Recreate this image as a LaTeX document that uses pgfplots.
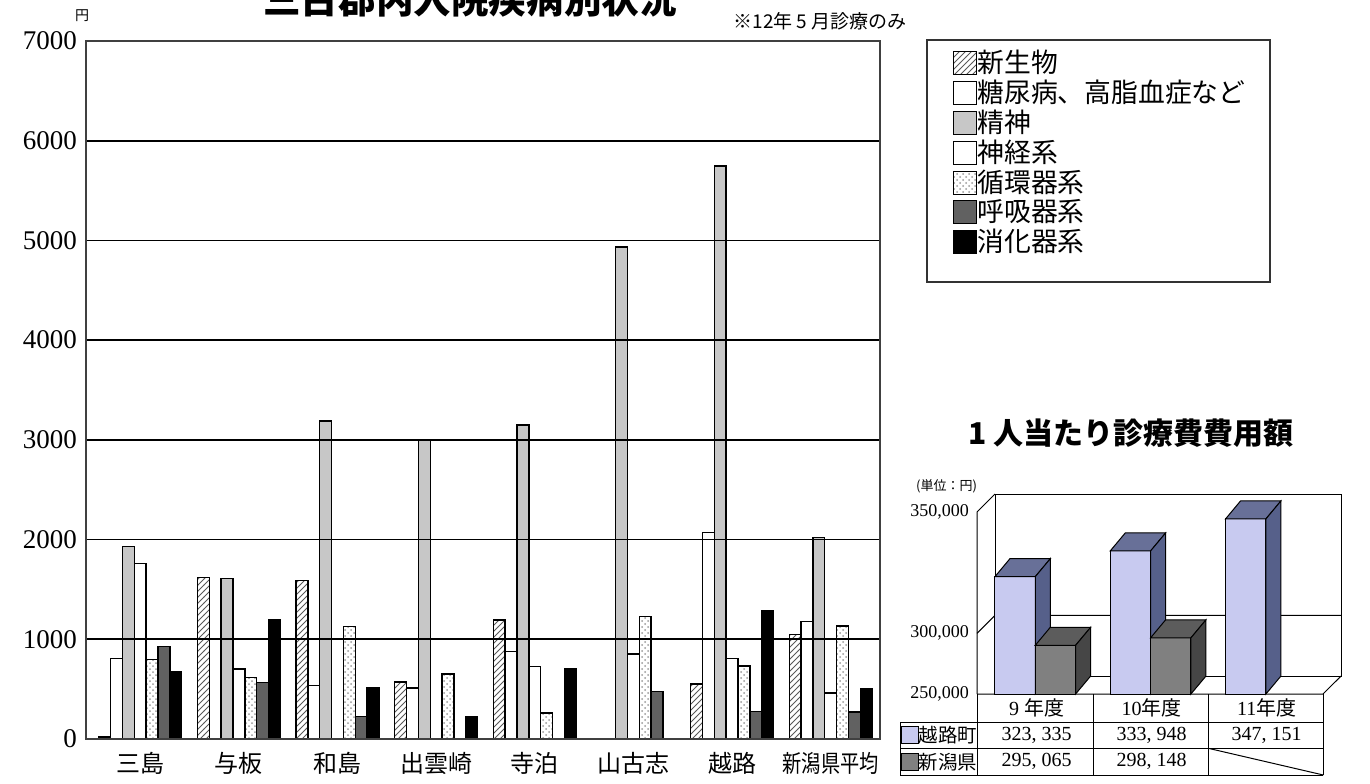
\documentclass[border=0pt]{standalone}
\usepackage{fontspec}
\setmainfont{Liberation Serif}
\newfontfamily\jp{Noto Sans CJK JP}
\usepackage{graphicx}
\usepackage{pgfplots}
\pgfplotsset{compat=1.18}
\usetikzlibrary{patterns}

\definecolor{koshiji}{RGB}{200,202,240}
\definecolor{koshijiS}{RGB}{86,96,138}
\definecolor{koshijiT}{RGB}{104,112,152}
\definecolor{ken}{RGB}{128,128,128}
\definecolor{kenS}{RGB}{70,70,70}
\definecolor{kenT}{RGB}{92,92,92}

\pgfplotsset{sq/.style={legend image code/.code={\draw[##1,draw=black,line width=0.5pt] (0pt,-5.75pt) rectangle (11.5pt,5.75pt);}}}

% 3D bar: x0, x1, x0+dx, x1+dx, value, value+dy, front, top, side
\newcommand\bart[9]{%
  \addplot[fill=#7,draw=black,line width=0.5pt] coordinates {(#1,275000)(#1,#5)(#2,#5)(#2,275000)} -- cycle;
  \addplot[fill=#8,draw=black,line width=0.5pt] coordinates {(#1,#5)(#3,#6)(#4,#6)(#2,#5)} -- cycle;
  \addplot[fill=#9,draw=black,line width=0.5pt] coordinates {(#2,275000)(#2,#5)(#4,#6)(#4,282400)} -- cycle;}

\begin{document}
\begin{tikzpicture}
% main chart
\begin{axis}[
  at={(43pt,22pt)}, anchor=south west,
  width=397pt, height=349pt, scale only axis,
  xmin=-0.55, xmax=7.5, ymin=0, ymax=7000,
  ybar=0pt, bar width=0.12,
  xtick={0,...,7},
  xticklabels={三島,与板,和島,出雲崎,寺泊,山古志,越路,\scalebox{0.8}[1]{新潟県平均}},
  ytick={0,1000,...,7000},
  major tick length=0pt,
  ymajorgrids, grid style={black, line width=0.9pt},
  axis on top,
  axis line style={black!75, line width=0.6pt},
  xticklabel style={font=\jp\fontsize{12}{12}\selectfont, yshift=-3pt},
  yticklabel style={font=\fontsize{13.5}{13.5}\selectfont, xshift=-1pt},
  /pgf/number format/assume math mode=true,
  /pgf/number format/1000 sep={},
  legend cell align=left,
  legend style={at={(1.092,0.987)}, anchor=north west, draw=none, fill=none,
    inner sep=0pt, row sep=2.15pt, column sep=0pt,
    font=\jp\fontsize{13.4}{14}\selectfont,
    nodes={inner sep=0pt}},
]
\addplot[draw=black, line width=0.7pt, pattern=north east lines, pattern color=black!65, sq]
  coordinates {(0,20)(1,1617)(2,1587)(3,570)(4,1193)(5,0)(6,550)(7,1050)};
\addplot[draw=black, line width=0.7pt, fill=white, sq]
  coordinates {(0,810)(1,0)(2,537)(3,510)(4,877)(5,0)(6,2073)(7,1177)};
\addplot[draw=black, line width=0.7pt, fill=black!22, sq]
  coordinates {(0,1933)(1,1607)(2,3190)(3,3000)(4,3150)(5,4935)(6,5745)(7,2020)};
\addplot[draw=black, line width=0.7pt, fill=white, sq]
  coordinates {(0,1760)(1,703)(2,0)(3,0)(4,727)(5,853)(6,810)(7,460)};
\addplot[draw=black, line width=0.7pt, pattern=crosshatch dots, pattern color=black!40, sq]
  coordinates {(0,800)(1,617)(2,1127)(3,650)(4,260)(5,1227)(6,733)(7,1133)};
\addplot[draw=black, line width=0.7pt, fill=black!62, sq]
  coordinates {(0,927)(1,567)(2,227)(3,0)(4,0)(5,477)(6,277)(7,270)};
\addplot[draw=black, line width=0.7pt, fill=black, sq]
  coordinates {(0,677)(1,1200)(2,517)(3,220)(4,710)(5,0)(6,1287)(7,503)};
\legend{新生物,糖尿病、高脂血症など,精神,神経系,循環器系,呼吸器系,消化器系}
\end{axis}

% legend frame, title, notes
\draw[line width=0.6pt, black!80] (463.5pt,371.5pt) rectangle (635pt,250.5pt);
\node[anchor=base, font=\jp\bfseries\fontsize{18.8}{19}\selectfont] at (235pt,384.5pt) {三古郡内入院疾病別状況};
\node[anchor=east, font=\jp\fontsize{9.5}{10}\selectfont, inner sep=0pt] at (453.5pt,380.75pt) {※12年 5 月診療のみ};
\node[font=\jp\fontsize{7}{7}\selectfont, inner sep=0pt] at (41pt,383.5pt) {円};

% 3D chart
\node[font=\jp\bfseries\fontsize{15}{15}\selectfont, inner sep=0pt] at (565.5pt,175pt) {1 人当たり診療費費用額};
\node[font=\jp\fontsize{6.5}{7}\selectfont, inner sep=0pt] at (473.25pt,148.5pt) {(単位：円)};
\begin{axis}[
  at={(488.5pt,44.5pt)}, anchor=south west,
  width=173pt, height=91pt, scale only axis,
  xmin=0, xmax=3, ymin=275000, ymax=350000,
  clip=false,
  axis line style={draw=none},
  major tick length=0pt,
  xtick=\empty,
  ytick={275000,300000,350000},
  yticklabels={{250,000},{300,000},{350,000}},
  scaled y ticks=false,
  yticklabel style={font=\fontsize{9}{9}\selectfont, xshift=-0.5pt},
]
\draw[line width=0.5pt, fill=white] (axis cs:0.156,282400) rectangle (axis cs:3.156,357400);
\draw[line width=0.5pt] (axis cs:0,275000) -- (axis cs:0,350000) -- (axis cs:0.156,357400);
\draw[line width=0.5pt] (axis cs:0,300000) -- (axis cs:0.156,307400) -- (axis cs:3.156,307400);
\draw[line width=0.5pt] (axis cs:0,275000) -- (axis cs:3,275000) -- (axis cs:3.156,282400);
\bart{0.155}{0.505}{0.285}{0.635}{323335}{330735}{koshiji}{koshijiT}{koshijiS}
\bart{0.505}{0.855}{0.635}{0.985}{295065}{302465}{ken}{kenT}{kenS}
\bart{1.155}{1.505}{1.285}{1.635}{333948}{341348}{koshiji}{koshijiT}{koshijiS}
\bart{1.505}{1.855}{1.635}{1.985}{298148}{305548}{ken}{kenT}{kenS}
\bart{2.155}{2.505}{2.285}{2.635}{347151}{354551}{koshiji}{koshijiT}{koshijiS}
\end{axis}

% data table under the 3D chart
\begin{scope}[line width=0.5pt]
\draw (488.5pt,44.5pt) -- (488.5pt,4pt);
\draw (546.65pt,44.5pt) -- (546.65pt,4pt);
\draw (604.15pt,44.5pt) -- (604.15pt,4pt);
\draw (661.65pt,44.5pt) -- (661.65pt,4pt);
\draw (450pt,30.5pt) -- (661.65pt,30.5pt);
\draw (450pt,17.35pt) -- (661.65pt,17.35pt);
\draw (450pt,4pt) -- (661.65pt,4pt);
\draw (450pt,30.5pt) -- (450pt,4pt);
\draw (604.15pt,17.35pt) -- (661.65pt,4pt);
\draw[fill=koshiji] (450.85pt,28.15pt) rectangle (459.15pt,19.85pt);
\draw[fill=ken] (450.85pt,14.85pt) rectangle (459.15pt,6.5pt);
\end{scope}
\begin{scope}[every node/.style={inner sep=0pt, font=\fontsize{10}{10}\selectfont}]
\node at (518.35pt,37.5pt) {9 {\jp 年度}};
\node at (575.85pt,37.5pt) {10{\jp 年度}};
\node at (633.35pt,37.5pt) {11{\jp 年度}};
\node at (474pt,24pt) {\jp\fontsize{9.7}{10}\selectfont 越路町};
\node at (474pt,10.65pt) {\jp\fontsize{9.7}{10}\selectfont 新潟県};
\node at (518.35pt,24pt) {323, 335};
\node at (575.85pt,24pt) {333, 948};
\node at (633.35pt,24pt) {347, 151};
\node at (518.35pt,10.65pt) {295, 065};
\node at (575.85pt,10.65pt) {298, 148};
\end{scope}

\pgfresetboundingbox
\path (0pt,0pt) rectangle (685pt,391.5pt);
\end{tikzpicture}
\end{document}
